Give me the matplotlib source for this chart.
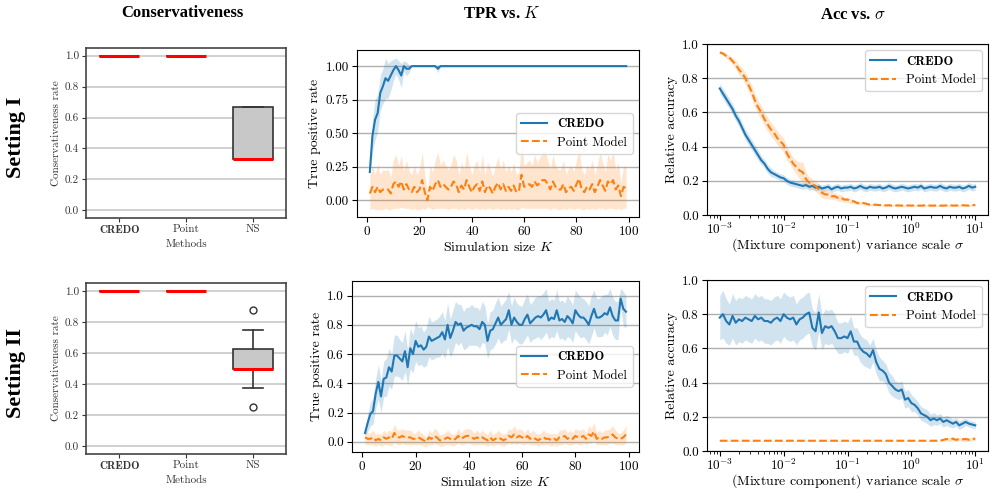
import numpy as np
import matplotlib
matplotlib.use("Agg")
import matplotlib.pyplot as plt

plt.rcParams["font.family"] = ["cmr10"]
plt.rcParams["mathtext.fontset"] = "cm"
plt.rcParams["axes.formatter.use_mathtext"] = True
plt.rcParams["axes.unicode_minus"] = False

# ---------------- data ----------------
methods = ["CREDO", "Point", "NS"]

# box stats (setting I, setting II): q1, med, q3, whislo, whishi, fliers
box_stats_1 = [
    dict(q1=1.0, med=1.0, q3=1.0, whislo=1.0, whishi=1.0, fliers=[]),
    dict(q1=1.0, med=1.0, q3=1.0, whislo=1.0, whishi=1.0, fliers=[]),
    dict(q1=0.333, med=0.333, q3=0.667, whislo=0.333, whishi=0.667, fliers=[]),
]
box_stats_2 = [
    dict(q1=1.0, med=1.0, q3=1.0, whislo=1.0, whishi=1.0, fliers=[]),
    dict(q1=1.0, med=1.0, q3=1.0, whislo=1.0, whishi=1.0, fliers=[]),
    dict(q1=0.5, med=0.5, q3=0.625, whislo=0.375, whishi=0.75, fliers=[0.875, 0.25]),
]

K = np.arange(1, 100)

tpr_credo_1 = [0.21, 0.48, 0.60, 0.65, 0.80, 0.85, 0.91, 0.89, 0.93, 0.97,
               1.00, 0.97, 0.93, 1.00, 0.98, 0.98, 1.00, 1.00, 1.00, 1.00,
               1.00, 1.00, 1.00, 1.00, 1.00, 1.00, 0.98, 1.00, 1.00, 1.00,
               1.00, 1.00, 1.00, 1.00, 1.00, 1.00, 1.00, 1.00, 1.00, 1.00,
               1.00, 1.00, 1.00, 1.00, 1.00, 1.00, 1.00, 1.00, 1.00, 1.00,
               1.00, 1.00, 1.00, 1.00, 1.00, 1.00, 1.00, 1.00, 1.00, 1.00,
               1.00, 1.00, 1.00, 1.00, 1.00, 1.00, 1.00, 1.00, 1.00, 1.00,
               1.00, 1.00, 1.00, 1.00, 1.00, 1.00, 1.00, 1.00, 1.00, 1.00,
               1.00, 1.00, 1.00, 1.00, 1.00, 1.00, 1.00, 1.00, 1.00, 1.00,
               1.00, 1.00, 1.00, 1.00, 1.00, 1.00, 1.00, 1.00, 1.00]
tpr_credo_1_std = [0.00, 0.12, 0.15, 0.14, 0.13, 0.13, 0.15, 0.13, 0.11, 0.08,
                   0.06, 0.07, 0.09, 0.04, 0.05, 0.03, 0.00, 0.00, 0.00, 0.00,
                   0.00, 0.00, 0.00, 0.00, 0.00, 0.00, 0.03, 0.00, 0.00, 0.00,
                   0.00, 0.00, 0.00, 0.00, 0.00, 0.00, 0.00, 0.00, 0.00, 0.00,
                   0.00, 0.00, 0.00, 0.00, 0.00, 0.00, 0.00, 0.00, 0.00, 0.00,
                   0.00, 0.00, 0.00, 0.00, 0.00, 0.00, 0.00, 0.00, 0.00, 0.00,
                   0.00, 0.00, 0.00, 0.00, 0.00, 0.00, 0.00, 0.00, 0.00, 0.00,
                   0.00, 0.00, 0.00, 0.00, 0.00, 0.00, 0.00, 0.00, 0.00, 0.00,
                   0.00, 0.00, 0.00, 0.00, 0.00, 0.00, 0.00, 0.00, 0.00, 0.00,
                   0.00, 0.00, 0.00, 0.00, 0.00, 0.00, 0.00, 0.00, 0.00]
tpr_point_1 = [0.05, 0.10, 0.06, 0.10, 0.06, 0.08, 0.08, 0.08, 0.05, 0.12,
               0.14, 0.10, 0.14, 0.08, 0.12, 0.08, 0.06, 0.10, 0.06, 0.08,
               0.15, 0.06, 0.00, 0.10, 0.07, 0.12, 0.15, 0.10, 0.12, 0.10,
               0.08, 0.10, 0.14, 0.12, 0.06, 0.11, 0.08, 0.15, 0.10, 0.06,
               0.10, 0.12, 0.07, 0.14, 0.06, 0.11, 0.09, 0.05, 0.10, 0.13,
               0.08, 0.12, 0.07, 0.10, 0.07, 0.11, 0.06, 0.07, 0.19, 0.10,
               0.11, 0.12, 0.10, 0.14, 0.11, 0.13, 0.15, 0.15, 0.12, 0.08,
               0.14, 0.10, 0.08, 0.08, 0.12, 0.06, 0.09, 0.10, 0.07, 0.12,
               0.16, 0.08, 0.06, 0.10, 0.08, 0.12, 0.06, 0.10, 0.15, 0.11,
               0.07, 0.14, 0.12, 0.15, 0.08, 0.11, 0.03, 0.10, 0.09]
tpr_point_1_std = [0.12, 0.16, 0.13, 0.17, 0.13, 0.15, 0.14, 0.15, 0.12, 0.18,
                   0.20, 0.16, 0.19, 0.14, 0.18, 0.14, 0.13, 0.16, 0.13, 0.15,
                   0.21, 0.13, 0.05, 0.16, 0.14, 0.18, 0.21, 0.16, 0.18, 0.16,
                   0.15, 0.16, 0.20, 0.18, 0.13, 0.17, 0.15, 0.21, 0.16, 0.13,
                   0.16, 0.18, 0.14, 0.20, 0.13, 0.17, 0.15, 0.12, 0.16, 0.19,
                   0.15, 0.18, 0.14, 0.16, 0.14, 0.17, 0.13, 0.14, 0.24, 0.16,
                   0.17, 0.18, 0.16, 0.20, 0.17, 0.19, 0.21, 0.21, 0.18, 0.15,
                   0.20, 0.16, 0.15, 0.15, 0.18, 0.13, 0.15, 0.16, 0.14, 0.18,
                   0.22, 0.15, 0.13, 0.16, 0.15, 0.18, 0.13, 0.16, 0.21, 0.17,
                   0.14, 0.20, 0.18, 0.21, 0.15, 0.17, 0.10, 0.16, 0.15]

tpr_credo_2 = [0.06, 0.13, 0.19, 0.21, 0.33, 0.41, 0.31, 0.43, 0.44, 0.51,
               0.48, 0.59, 0.59, 0.57, 0.55, 0.62, 0.51, 0.64, 0.60, 0.69,
               0.65, 0.66, 0.63, 0.65, 0.72, 0.69, 0.70, 0.71, 0.72, 0.75,
               0.70, 0.80, 0.71, 0.76, 0.82, 0.80, 0.81, 0.76, 0.78, 0.79,
               0.80, 0.79, 0.79, 0.77, 0.82, 0.80, 0.69, 0.76, 0.77, 0.81,
               0.85, 0.80, 0.82, 0.84, 0.90, 0.80, 0.85, 0.82, 0.80, 0.80,
               0.84, 0.87, 0.81, 0.83, 0.85, 0.86, 0.85, 0.87, 0.90, 0.83,
               0.85, 0.84, 0.90, 0.83, 0.84, 0.82, 0.86, 0.84, 0.81, 0.90,
               0.87, 0.85, 0.85, 0.83, 0.80, 0.86, 0.91, 0.85, 0.85, 0.86,
               0.88, 0.87, 0.92, 0.86, 0.83, 0.83, 0.98, 0.91, 0.89]
tpr_credo_2_std = [0.02, 0.06, 0.08, 0.09, 0.10, 0.12, 0.11, 0.12, 0.13, 0.13,
                   0.12, 0.14, 0.14, 0.13, 0.13, 0.14, 0.12, 0.14, 0.13, 0.14,
                   0.13, 0.13, 0.12, 0.13, 0.14, 0.13, 0.13, 0.13, 0.14, 0.14,
                   0.13, 0.15, 0.13, 0.14, 0.14, 0.14, 0.13, 0.13, 0.14, 0.13,
                   0.14, 0.13, 0.13, 0.13, 0.14, 0.13, 0.12, 0.13, 0.13, 0.14,
                   0.14, 0.13, 0.13, 0.14, 0.13, 0.13, 0.14, 0.13, 0.13, 0.13,
                   0.14, 0.14, 0.13, 0.13, 0.14, 0.14, 0.15, 0.15, 0.15, 0.13,
                   0.13, 0.13, 0.14, 0.13, 0.13, 0.13, 0.14, 0.13, 0.13, 0.14,
                   0.14, 0.14, 0.13, 0.13, 0.13, 0.14, 0.13, 0.13, 0.13, 0.14,
                   0.13, 0.14, 0.13, 0.13, 0.13, 0.13, 0.07, 0.12, 0.11]
tpr_point_2 = [0.03, 0.02, 0.02, 0.03, 0.01, 0.02, 0.01, 0.03, 0.02, 0.03,
               0.02, 0.06, 0.03, 0.03, 0.04, 0.03, 0.03, 0.03, 0.02, 0.02,
               0.03, 0.02, 0.01, 0.00, 0.03, 0.02, 0.04, 0.03, 0.01, 0.01,
               0.02, 0.03, 0.02, 0.01, 0.02, 0.04, 0.02, 0.03, 0.04, 0.04,
               0.03, 0.02, 0.03, 0.02, 0.03, 0.02, 0.01, 0.03, 0.01, 0.02,
               0.03, 0.02, 0.01, 0.02, 0.04, 0.03, 0.05, 0.03, 0.04, 0.03,
               0.02, 0.04, 0.02, 0.03, 0.02, 0.01, 0.02, 0.03, 0.02, 0.02,
               0.01, 0.02, 0.01, 0.03, 0.03, 0.04, 0.02, 0.03, 0.02, 0.04,
               0.03, 0.03, 0.04, 0.02, 0.05, 0.04, 0.07, 0.02, 0.03, 0.02,
               0.03, 0.03, 0.04, 0.05, 0.03, 0.02, 0.02, 0.03, 0.05]
tpr_point_2_std = [0.05, 0.04, 0.04, 0.05, 0.04, 0.04, 0.04, 0.05, 0.04, 0.05,
                   0.05, 0.06, 0.05, 0.05, 0.05, 0.05, 0.05, 0.05, 0.04, 0.04,
                   0.05, 0.04, 0.04, 0.03, 0.05, 0.04, 0.05, 0.05, 0.04, 0.04,
                   0.04, 0.05, 0.04, 0.04, 0.04, 0.05, 0.04, 0.05, 0.05, 0.05,
                   0.05, 0.04, 0.05, 0.04, 0.05, 0.04, 0.04, 0.05, 0.04, 0.04,
                   0.05, 0.04, 0.04, 0.04, 0.05, 0.05, 0.06, 0.05, 0.05, 0.05,
                   0.04, 0.05, 0.04, 0.05, 0.04, 0.04, 0.04, 0.05, 0.04, 0.04,
                   0.04, 0.04, 0.04, 0.05, 0.05, 0.05, 0.04, 0.05, 0.04, 0.05,
                   0.05, 0.05, 0.05, 0.04, 0.06, 0.05, 0.06, 0.04, 0.05, 0.04,
                   0.05, 0.05, 0.05, 0.06, 0.05, 0.04, 0.04, 0.05, 0.06]

sigma = np.logspace(-3, 1, 81)

acc_credo_1 = [0.74, 0.71, 0.68, 0.65, 0.62, 0.58, 0.55, 0.51, 0.47, 0.44,
               0.41, 0.38, 0.35, 0.32, 0.30, 0.27, 0.25, 0.24, 0.23, 0.22,
               0.215, 0.20, 0.19, 0.185, 0.18, 0.175, 0.17, 0.175, 0.165, 0.17,
               0.16, 0.165, 0.155, 0.16, 0.165, 0.15, 0.16, 0.165, 0.155, 0.16,
               0.16, 0.165, 0.155, 0.16, 0.17, 0.16, 0.155, 0.165, 0.16, 0.16,
               0.165, 0.155, 0.16, 0.17, 0.16, 0.155, 0.16, 0.165, 0.16, 0.155,
               0.16, 0.165, 0.16, 0.17, 0.155, 0.16, 0.165, 0.16, 0.16, 0.17,
               0.16, 0.155, 0.165, 0.16, 0.16, 0.165, 0.155, 0.16, 0.17, 0.16,
               0.165]
acc_credo_1_std = [0.03, 0.03, 0.03, 0.03, 0.03, 0.03, 0.03, 0.03, 0.03, 0.03,
                   0.03, 0.03, 0.03, 0.025, 0.025, 0.025, 0.025, 0.02, 0.02, 0.02,
                   0.02, 0.02, 0.02, 0.02, 0.02, 0.02, 0.02, 0.02, 0.02, 0.02,
                   0.02, 0.02, 0.02, 0.02, 0.02, 0.02, 0.02, 0.02, 0.02, 0.02,
                   0.02, 0.02, 0.02, 0.02, 0.02, 0.02, 0.02, 0.02, 0.02, 0.02,
                   0.02, 0.02, 0.02, 0.02, 0.02, 0.02, 0.02, 0.02, 0.02, 0.02,
                   0.02, 0.02, 0.02, 0.02, 0.02, 0.02, 0.02, 0.02, 0.02, 0.02,
                   0.02, 0.02, 0.02, 0.02, 0.02, 0.02, 0.02, 0.02, 0.02, 0.02,
                   0.02]
acc_point_1 = [0.95, 0.945, 0.93, 0.92, 0.90, 0.88, 0.85, 0.83, 0.80, 0.76,
               0.72, 0.67, 0.63, 0.60, 0.56, 0.53, 0.50, 0.48, 0.45, 0.43,
               0.41, 0.36, 0.33, 0.30, 0.28, 0.26, 0.25, 0.21, 0.19, 0.18,
               0.17, 0.15, 0.13, 0.12, 0.12, 0.11, 0.11, 0.10, 0.10, 0.09,
               0.09, 0.08, 0.08, 0.07, 0.07, 0.07, 0.065, 0.06, 0.06, 0.06,
               0.058, 0.058, 0.056, 0.057, 0.055, 0.056, 0.056, 0.055, 0.055, 0.056,
               0.055, 0.056, 0.055, 0.055, 0.056, 0.057, 0.055, 0.055, 0.056, 0.055,
               0.055, 0.056, 0.057, 0.055, 0.056, 0.055, 0.057, 0.056, 0.055, 0.058,
               0.058]
acc_point_1_std = [0.01, 0.01, 0.015, 0.015, 0.02, 0.025, 0.03, 0.03, 0.035, 0.035,
                   0.04, 0.04, 0.04, 0.04, 0.04, 0.04, 0.04, 0.04, 0.04, 0.04,
                   0.04, 0.04, 0.035, 0.035, 0.04, 0.05, 0.06, 0.04, 0.035, 0.03,
                   0.03, 0.03, 0.03, 0.025, 0.025, 0.02, 0.02, 0.02, 0.02, 0.015,
                   0.015, 0.015, 0.01, 0.01, 0.01, 0.01, 0.008, 0.008, 0.006, 0.006,
                   0.005, 0.005, 0.005, 0.005, 0.005, 0.005, 0.005, 0.005, 0.005, 0.005,
                   0.005, 0.005, 0.005, 0.005, 0.005, 0.005, 0.005, 0.005, 0.005, 0.005,
                   0.005, 0.005, 0.005, 0.005, 0.005, 0.005, 0.005, 0.005, 0.005, 0.005,
                   0.005]

acc_credo_2 = [0.78, 0.80, 0.76, 0.74, 0.79, 0.75, 0.77, 0.76, 0.78, 0.77,
               0.76, 0.79, 0.77, 0.78, 0.76, 0.76, 0.75, 0.77, 0.78, 0.76,
               0.80, 0.78, 0.77, 0.78, 0.74, 0.77, 0.78, 0.80, 0.81, 0.72,
               0.70, 0.81, 0.69, 0.73, 0.72, 0.73, 0.70, 0.66, 0.66, 0.67,
               0.66, 0.70, 0.64, 0.64, 0.60, 0.58, 0.57, 0.55, 0.59, 0.52,
               0.48, 0.47, 0.45, 0.40, 0.38, 0.36, 0.35, 0.36, 0.30, 0.31,
               0.28, 0.27, 0.25, 0.22, 0.21, 0.20, 0.18, 0.19, 0.18, 0.19,
               0.17, 0.18, 0.17, 0.16, 0.17, 0.15, 0.16, 0.17, 0.16, 0.155,
               0.15]
acc_credo_2_std = [0.13, 0.14, 0.13, 0.12, 0.13, 0.13, 0.13, 0.13, 0.13, 0.13,
                   0.13, 0.13, 0.13, 0.13, 0.13, 0.13, 0.13, 0.13, 0.13, 0.13,
                   0.13, 0.13, 0.13, 0.13, 0.12, 0.12, 0.12, 0.12, 0.12, 0.11,
                   0.11, 0.11, 0.10, 0.10, 0.10, 0.10, 0.10, 0.09, 0.09, 0.09,
                   0.09, 0.09, 0.08, 0.08, 0.08, 0.08, 0.08, 0.07, 0.07, 0.07,
                   0.07, 0.06, 0.06, 0.06, 0.06, 0.05, 0.05, 0.05, 0.05, 0.05,
                   0.05, 0.04, 0.04, 0.04, 0.04, 0.04, 0.035, 0.035, 0.03, 0.03,
                   0.03, 0.03, 0.03, 0.025, 0.025, 0.025, 0.025, 0.02, 0.02, 0.02,
                   0.02]
acc_point_2 = [0.06] * 70 + [0.065, 0.07, 0.068, 0.072, 0.065, 0.07, 0.068, 0.07, 0.066, 0.07, 0.072]
acc_point_2_std = [0.002] * 70 + [0.008, 0.01, 0.01, 0.012, 0.01, 0.01, 0.01, 0.012, 0.01, 0.01, 0.01]

BLUE = "#1f77b4"
ORANGE = "#ff7f0e"
W, H = 990, 491
TICK = 9.5
LAB = 10
LEG = 9.3
BOXF = 8


def pos(left, top, right, bottom):
    return [left / W, 1 - bottom / H, (right - left) / W, (bottom - top) / H]


fig = plt.figure(figsize=(9.9, 4.91), dpi=100)


def box_panel(rect, stats):
    ax = fig.add_axes(rect)
    for s, lab in zip(stats, methods):
        s["label"] = lab
    ax.bxp(stats, positions=[1, 2, 3], widths=0.6, patch_artist=True,
           boxprops=dict(facecolor="#c8c8c8", edgecolor="#333333", linewidth=1.2),
           medianprops=dict(color="red", linewidth=2.2),
           whiskerprops=dict(color="#333333", linewidth=1.2),
           capprops=dict(color="#333333", linewidth=1.2),
           flierprops=dict(marker="o", markerfacecolor="none",
                           markeredgecolor="#333333", markersize=5))
    ax.set_ylim(-0.05, 1.05)
    ax.set_yticks([0.0, 0.2, 0.4, 0.6, 0.8, 1.0])
    ax.set_yticklabels(["0.0", "0.2", "0.4", "0.6", "0.8", "1.0"])
    ax.yaxis.grid(True, color="#c8c8c8", linewidth=1.2)
    ax.set_axisbelow(True)
    ax.tick_params(labelsize=BOXF, colors="#333333", length=3, pad=2)
    ax.set_xticklabels(methods)
    ax.get_xticklabels()[0].set_fontfamily("cmb10")
    ax.set_ylabel("Conservativeness rate", fontsize=BOXF, color="#333333", labelpad=3)
    ax.set_xlabel("Methods", fontsize=BOXF, color="#333333", labelpad=3.5)
    for sp in ax.spines.values():
        sp.set_color("#444444")
        sp.set_linewidth(1.2)
    return ax


def line_panel(rect, x, m1, s1, m2, s2, loc):
    ax = fig.add_axes(rect)
    m1, s1, m2, s2 = map(np.array, (m1, s1, m2, s2))
    ax.fill_between(x, m1 - s1, m1 + s1, color=BLUE, alpha=0.2, linewidth=0)
    ax.fill_between(x, m2 - s2, m2 + s2, color=ORANGE, alpha=0.2, linewidth=0)
    ax.plot(x, m1, color=BLUE, linewidth=1.5, label="CREDO")
    ax.plot(x, m2, color=ORANGE, linewidth=1.5, linestyle="--", label="Point Model")
    ax.yaxis.grid(True, color="#b0b0b0", linewidth=1)
    ax.set_axisbelow(True)
    ax.tick_params(labelsize=TICK, pad=2.5)
    leg = ax.legend(loc=loc, fontsize=LEG, framealpha=0.8)
    leg.get_texts()[0].set_fontfamily("cmb10")
    return ax


box_panel(pos(86, 48, 286, 218), box_stats_1)
box_panel(pos(86, 283, 286, 454), box_stats_2)

ax = line_panel(pos(357, 50, 639, 217), K, tpr_credo_1, tpr_credo_1_std,
                tpr_point_1, tpr_point_1_std, "center right")
ax.set_ylim(-0.125, 1.12)
ax.set_yticks([0.0, 0.25, 0.5, 0.75, 1.0])
ax.set_yticklabels(["0.00", "0.25", "0.50", "0.75", "1.00"])
ax.set_xticks([0, 20, 40, 60, 80, 100])
ax.set_ylabel("True positive rate", fontsize=LAB, labelpad=3)
ax.set_xlabel("Simulation size $K$", fontsize=LAB, labelpad=1)

ax = line_panel(pos(352, 281, 639, 452), K, tpr_credo_2, tpr_credo_2_std,
                tpr_point_2, tpr_point_2_std, "center right")
ax.set_ylim(-0.07, 1.10)
ax.set_yticks([0.0, 0.2, 0.4, 0.6, 0.8, 1.0])
ax.set_yticklabels(["0.0", "0.2", "0.4", "0.6", "0.8", "1.0"])
ax.set_xticks([0, 20, 40, 60, 80, 100])
ax.set_ylabel("True positive rate", fontsize=LAB, labelpad=3)
ax.set_xlabel("Simulation size $K$", fontsize=LAB, labelpad=1)

for rect, a1, s1, a2, s2 in [
        (pos(707, 44, 988, 215), acc_credo_1, acc_credo_1_std, acc_point_1, acc_point_1_std),
        (pos(707, 280, 988, 451), acc_credo_2, acc_credo_2_std, acc_point_2, acc_point_2_std)]:
    ax = line_panel(rect, sigma, a1, s1, a2, s2, "upper right")
    ax.set_xscale("log")
    ax.set_ylim(0, 1)
    ax.set_yticks([0.0, 0.2, 0.4, 0.6, 0.8, 1.0])
    ax.set_yticklabels(["0.0", "0.2", "0.4", "0.6", "0.8", "1.0"])
    ax.tick_params(axis="x", pad=1)
    ax.set_ylabel("Relative accuracy", fontsize=LAB, labelpad=3)
    ax.set_xlabel(r"(Mixture component) variance scale $\sigma$", fontsize=LAB, labelpad=0)

# column / row titles
tfont = dict(family="Liberation Serif", weight="bold", fontsize=12, ha="center", va="center")
fig.text(182 / W, 1 - 13 / H, "Conservativeness", **tfont)
fig.text(502 / W, 1 - 14 / H, "TPR vs. $K$", **tfont)
fig.text(853 / W, 1 - 15 / H, r"Acc vs. $\sigma$", **tfont)
rfont = dict(family="Liberation Serif", weight="bold", fontsize=16, ha="center",
             va="center", rotation=90)
fig.text(16 / W, 1 - 137 / H, "Setting I", **rfont)
fig.text(16 / W, 1 - 373 / H, "Setting II", **rfont)

fig.savefig("out.png", dpi=100)
